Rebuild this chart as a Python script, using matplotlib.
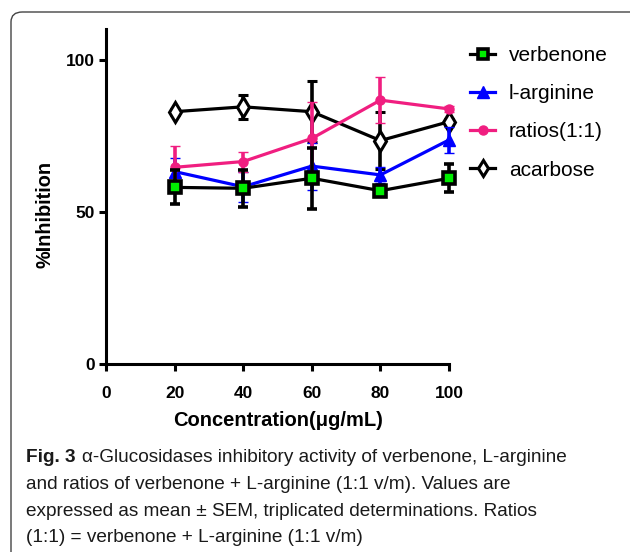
import numpy as np
import matplotlib.pyplot as plt
from matplotlib.lines import Line2D
from matplotlib.patches import FancyBboxPatch

plt.rcParams['font.family'] = ['Liberation Sans', 'DejaVu Sans']

conc = [20, 40, 60, 80, 100]

verbenone = [58.1, 57.8, 61.1, 57.0, 61.1]
verbenone_err = [5.6, 6.0, 10.0, 1.5, 4.6]
arginine = [63.3, 58.3, 65.1, 62.2, 73.7]
arginine_err = [4.5, 5.0, 7.7, 2.7, 4.4]
ratios = [64.7, 66.6, 74.2, 86.8, 83.9]
ratios_err = [7.0, 3.3, 12.0, 7.5, 1.0]
acarbose = [83.0, 84.6, 83.0, 73.5, 79.7]
acarbose_err = [1.0, 4.0, 10.0, 9.5, 1.0]

labels = ['verbenone', 'l-arginine', 'ratios(1:1)', 'acarbose']

caption_lines = [
    'α-Glucosidases inhibitory activity of verbenone, L-arginine',
    'and ratios of verbenone + L-arginine (1:1 v/m). Values are',
    'expressed as mean ± SEM, triplicated determinations. Ratios',
    '(1:1) = verbenone + L-arginine (1:1 v/m)',
]

W, H = 630, 552
fig = plt.figure(figsize=(W / 100, H / 100), dpi=100)

def fx(px):
    return px / W

def fy(py):
    return 1 - py / H

ax = fig.add_axes([fx(106), fy(364), fx(449) - fx(106), fy(29) - fy(364)])

pink = '#F01E80'
green = '#00EE00'
styles = [
    dict(color='black', marker='s', ms=8, mfc=green, mec='black', mew=2.6),
    dict(color='#0000FF', marker='^', ms=9, mfc='#0000FF', mec='#0000FF', mew=1),
    dict(color=pink, marker='o', ms=6.5, mfc=pink, mec=pink, mew=1),
    dict(color='black', marker='d', ms=10, mfc='white', mec='black', mew=2.2),
]
series = [(verbenone, verbenone_err), (arginine, arginine_err),
          (ratios, ratios_err), (acarbose, acarbose_err)]
zorders = [6, 4, 5, 3]

for (vals, err), st, z in zip(series, styles, zorders):
    ax.errorbar(conc, vals, yerr=err, lw=2.3, elinewidth=2.6, capsize=3.8,
                capthick=3.6, zorder=z, clip_on=False, **st)

ax.set_xlim(0, 100)
ax.set_ylim(0, 110.2)
ax.set_xticks([0, 20, 40, 60, 80, 100])
ax.set_yticks([0, 50, 100])
for s in ['top', 'right']:
    ax.spines[s].set_visible(False)
for s in ['left', 'bottom']:
    ax.spines[s].set_linewidth(2.2)
ax.tick_params(width=2.2, length=5, labelsize=12.5)
ax.tick_params(axis='x', pad=10.5)
ax.tick_params(axis='y', pad=3)
for t in ax.get_xticklabels() + ax.get_yticklabels():
    t.set_fontweight('bold')

fig.text(fx(278), fy(420), 'Concentration(μg/mL)', ha='center', va='center',
         fontsize=14.5, fontweight='bold')
fig.text(fx(45), fy(214), '%Inhibition', ha='center', va='center',
         rotation=90, fontsize=14.3, fontweight='bold')

leg_styles = [dict(st) for st in styles]
leg_styles[0]['ms'] = 7
leg_styles[3]['ms'] = 8
handles = [Line2D([], [], lw=2.3, **st) for st in leg_styles]
fig.legend(handles, labels, loc='upper left',
           bbox_to_anchor=(fx(470), fy(46)), frameon=False, fontsize=15,
           handlelength=1.2, handletextpad=0.67, labelspacing=0.92,
           borderpad=0, borderaxespad=0)

# rounded frame around the figure panel
frame = FancyBboxPatch((fx(11), fy(600)), fx(700) - fx(11), fy(12) - fy(600),
                       boxstyle='round,pad=0,rounding_size=0.018',
                       transform=fig.transFigure, fill=False,
                       ec='#444444', lw=1.0, zorder=0)
fig.patches.append(frame)

cap_size = 13.7
baselines = [462, 489, 516, 542]
fig_txt = fig.text(fx(26), fy(baselines[0]), 'Fig. 3', fontsize=cap_size,
                   fontweight='bold', va='baseline', color='#1a1a1a')
renderer = fig.canvas.get_renderer()
bb = fig_txt.get_window_extent(renderer)
first_x = bb.x1 / W + fx(6)
for i, line in enumerate(caption_lines):
    x0 = first_x if i == 0 else fx(26)
    fig.text(x0, fy(baselines[i]), line, fontsize=cap_size,
             va='baseline', color='#1a1a1a')

fig.savefig('out.png', dpi=100)
